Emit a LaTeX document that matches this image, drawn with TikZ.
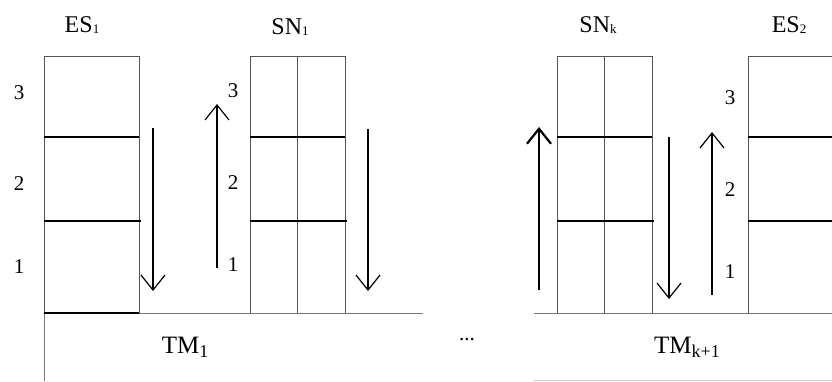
\documentclass[tikz,border=0pt]{standalone}
\usepackage{fontspec}
\setmainfont{Liberation Serif}
\usetikzlibrary{arrows.meta}
\definecolor{frame}{RGB}{85,85,85}
\definecolor{base}{RGB}{120,120,120}
\tikzset{
  col/.style={draw=frame, line width=0.9pt, inner sep=0pt, outer sep=0pt, minimum width=95pt, minimum height=257pt},
  shelf/.style={draw=black, line width=1.8pt},
  flow/.style={draw=black, line width=1.2pt, -{Straight Barb[length=15pt,width=24pt,line width=1.2pt]}},
  bigflow/.style={draw=black, line width=2.4pt, -{Straight Barb[length=15pt,width=24pt,line width=2.2pt]}},
  lbl/.style={inner sep=0pt, font=\fontsize{24}{26}\selectfont},
  tmlbl/.style={inner sep=0pt, font=\fontsize{25}{27}\selectfont},
  num/.style={inner sep=0pt, font=\fontsize{21}{24}\selectfont},
  ground/.style={draw=base, line width=0.9pt},
}
\newcommand{\smallsub}[1]{\raisebox{-1pt}{\fontsize{13}{13}\selectfont #1}}
\newcommand{\bigsub}[1]{\raisebox{-4pt}{\fontsize{18}{18}\selectfont #1}}
\begin{document}
\begin{tikzpicture}[x=1pt,y=-1pt]
\useasboundingbox (0,0) rectangle (832,381);
\clip (0,0) rectangle (832,381);
\fill[white] (0,0) rectangle (832,381);

% columns
\node[col] (es1) at (91.5,184.5) {};
\node[col] (sn1) at (297.5,184.5) {};
\node[col] (snk) at (604.5,184.5) {};
\node[col] (es2) at (795.5,184.5) {};

% middle dividers of SN columns
\draw[draw=frame, line width=0.9pt] (sn1.north) -- (sn1.south);
\draw[draw=frame, line width=0.9pt] (snk.north) -- (snk.south);

% shelves
\foreach \c in {es1,sn1,snk,es2}{
  \draw[shelf] (\c.west |- 0,137) -- (\c.east |- 0,137);
  \draw[shelf] (\c.west |- 0,221) -- ([xshift=2pt]\c.east |- 0,221);
}

% ground lines
\coordinate (g1) at (44,313);
\coordinate (g2) at (423,313);
\coordinate (g3) at (534,313);
\coordinate (g4) at (832,313);
\coordinate (v1) at (44,381);
\coordinate (b1) at (534,380);
\coordinate (b2) at (832,380);
\draw[ground] (g1) -- (g2);
\draw[ground] (g3) -- (g4);
\draw[ground] (g1) -- (v1);
\draw[draw=base!40, line width=0.9pt] (b1) -- (b2);
\draw[draw=black, line width=1.2pt] (es1.south west) -- (es1.south east);

% arrows
\coordinate (a1s) at (153,128); \coordinate (a1e) at (153,291);
\coordinate (a2s) at (217,268); \coordinate (a2e) at (217,104);
\coordinate (a3s) at (368,129); \coordinate (a3e) at (368,291);
\coordinate (a4s) at (539,290); \coordinate (a4e) at (539,127);
\coordinate (a5s) at (669,137); \coordinate (a5e) at (669,299);
\coordinate (a6s) at (712,295); \coordinate (a6e) at (712,132);
\draw[flow] (a1s) -- (a1e);
\draw[flow] (a2s) -- (a2e);
\draw[flow] (a3s) -- (a3e);
\draw[bigflow] (a4s) -- (a4e);
\draw[flow] (a5s) -- (a5e);
\draw[flow] (a6s) -- (a6e);

% titles
\node[lbl] (tes1) at (82,25) {ES\smallsub{1}};
\node[lbl] (tsn1) at (290,27) {SN\smallsub{1}};
\node[lbl] (tsnk) at (598,25) {SN\smallsub{k}};
\node[lbl] (tes2) at (789,25) {ES\smallsub{2}};
\node[tmlbl] (ttm1) at (185,347) {TM\bigsub{1}};
\node[tmlbl] (ttmk) at (687,347) {TM\bigsub{k+1}};
\node[num] (dots) at (467,340) {...};

% level numbers
\node[num] (l3) at (19,93) {3};
\node[num] (l2) at (19,184) {2};
\node[num] (l1) at (19,267) {1};
\node[num] (m3) at (233,91) {3};
\node[num] (m2) at (233,183) {2};
\node[num] (m1) at (233,265) {1};
\node[num] (r3) at (730,98) {3};
\node[num] (r2) at (730,190) {2};
\node[num] (r1) at (730,272) {1};
\end{tikzpicture}
\end{document}
